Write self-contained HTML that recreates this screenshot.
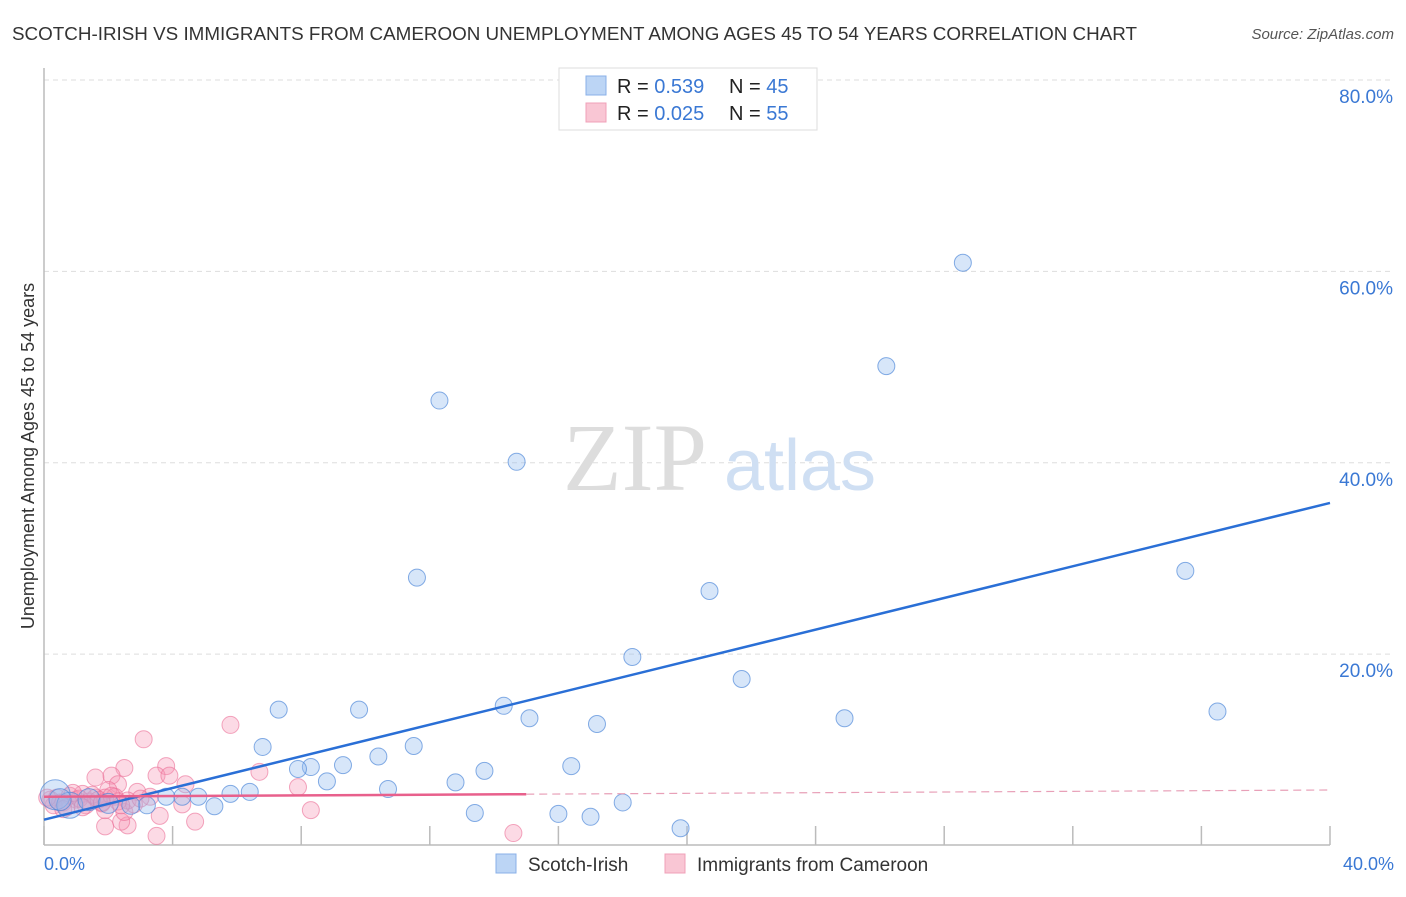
<!DOCTYPE html>
<html><head><meta charset="utf-8"><style>
body{margin:0;background:#fff;font-family:"Liberation Sans",sans-serif;}
svg text{font-family:"Liberation Sans",sans-serif;}
</style></head><body>
<svg width="1406" height="892" xmlns="http://www.w3.org/2000/svg">
<text x="12" y="40" font-size="18" fill="#333" textLength="1125" lengthAdjust="spacingAndGlyphs">SCOTCH-IRISH VS IMMIGRANTS FROM CAMEROON UNEMPLOYMENT AMONG AGES 45 TO 54 YEARS CORRELATION CHART</text>
<text x="1394" y="39" font-size="15" fill="#555" font-style="italic" text-anchor="end">Source: ZipAtlas.com</text>
<g id="grid"></g>
<g>
<text x="635" y="490" font-size="96" fill="#ddd" text-anchor="middle" font-family="Liberation Serif" style="font-family:'Liberation Serif',serif">ZIP</text>
<text x="800" y="490" font-size="72" fill="#cfdff3" text-anchor="middle">atlas</text>
</g>
<line x1="44" y1="68" x2="44" y2="845" stroke="#bbb" stroke-width="1.5"/>
<line x1="44" y1="845" x2="1330" y2="845" stroke="#bbb" stroke-width="1.5"/>
<g id="ticks"></g>
<text transform="translate(34,456) rotate(-90)" font-size="18" fill="#333" text-anchor="middle">Unemployment Among Ages 45 to 54 years</text>
<text x="44" y="870" font-size="18" fill="#3a78d4">0.0%</text>
<text x="1394" y="870" font-size="18" fill="#3a78d4" text-anchor="end">40.0%</text>
<g id="pts"></g>
<g id="lines"></g>
<g>
<rect x="559" y="68" width="258" height="62" fill="#fff" stroke="#ddd"/>
<rect x="586" y="76" width="20" height="19" fill="#bcd5f5" stroke="#8ab0e8"/>
<rect x="586" y="103" width="20" height="19" fill="#f9c6d4" stroke="#f0a0b8"/>
<text x="617" y="93" font-size="20" fill="#222">R = <tspan fill="#3a78d4">0.539</tspan></text>
<text x="729" y="93" font-size="20" fill="#222">N = <tspan fill="#3a78d4">45</tspan></text>
<text x="617" y="120" font-size="20" fill="#222">R = <tspan fill="#3a78d4">0.025</tspan></text>
<text x="729" y="120" font-size="20" fill="#222">N = <tspan fill="#3a78d4">55</tspan></text>
</g>
<g>
<rect x="496" y="854" width="20" height="19" fill="#bcd5f5" stroke="#8ab0e8"/>
<text x="528" y="871" font-size="19" fill="#333">Scotch-Irish</text>
<rect x="665" y="854" width="20" height="19" fill="#f9c6d4" stroke="#f0a0b8"/>
<text x="697" y="871" font-size="19" fill="#333">Immigrants from Cameroon</text>
</g>
</svg>
<script>
const yTicks=[20,40,60,80];
const yTickLabels=["20.0%","40.0%","60.0%","80.0%"];
const xTicks=[0,4,8,12,16,20,24,28,32,36,40];
const blueX=[28.58,26.2,12.3,14.7,11.6,20.7,35.5,18.3,21.7,36.5,24.9,7.3,9.8,14.3,15.1,17.2,6.8,11.5,10.4,9.3,8.3,7.9,13.7,16.4,8.8,12.8,10.7,6.4,5.8,4.8,5.3,4.3,3.8,3.2,18.0,13.4,16.0,17.0,19.8,0.35,0.8,1.4,2.0,2.7,0.5];
const blueY=[60.9,50.1,46.5,40.1,28.0,26.6,28.7,19.7,17.4,14.0,13.3,14.2,14.2,14.6,13.3,12.7,10.3,10.4,9.3,8.4,8.2,8.0,7.8,8.3,6.7,6.6,5.9,5.6,5.4,5.1,4.1,5.1,5.1,4.2,4.5,3.4,3.3,3.0,1.8,5.3,4.2,4.8,4.4,4.2,4.8];
const blueR=[8.5,8.5,8.5,8.5,8.5,8.5,8.5,8.5,8.5,8.5,8.5,8.5,8.5,8.5,8.5,8.5,8.5,8.5,8.5,8.5,8.5,8.5,8.5,8.5,8.5,8.5,8.5,8.5,8.5,8.5,8.5,8.5,8.5,8.5,8.5,8.5,8.5,8.5,8.5,15,13,11,10,9,11];
const pinkX=[5.8,3.1,3.8,2.5,1.6,2.1,3.5,3.9,2.3,4.4,6.7,7.9,8.3,14.6,2.0,2.9,3.3,4.3,3.6,4.7,3.5,2.6,1.9,2.4,2.5,1.9,0.2,0.4,0.6,0.8,1.0,1.2,1.4,1.6,1.8,2.2,2.6,2.8,0.3,0.7,1.1,1.5,1.9,2.3,0.5,0.9,1.3,1.7,2.1,0.1,0.6,1.2,1.8,2.4,3.0];
const pinkY=[12.6,11.1,8.3,8.1,7.1,7.3,7.3,7.3,6.4,6.4,7.7,6.1,3.7,1.3,5.8,5.6,5.1,4.3,3.1,2.5,1.0,2.1,2.0,2.5,3.5,3.7,4.8,5.0,4.5,5.2,4.8,5.4,4.6,5.0,4.4,5.1,4.7,4.3,4.2,4.0,4.9,5.3,5.0,4.6,4.5,5.5,4.2,4.8,5.2,5.0,3.8,4.0,4.5,4.2,4.9];
const blueLine=[2.7,35.8];
const pinkLine=[5.1,5.8];
const pinkSolidEnd=15;
const X=v=>44+v/40*1286, Y=v=>845.5-v/80*765.5;
const NS="http://www.w3.org/2000/svg";
function mk(t,a,p){const e=document.createElementNS(NS,t);for(const k in a)e.setAttribute(k,a[k]);p.appendChild(e);return e;}
const grid=document.getElementById('grid'),ticks=document.getElementById('ticks'),pts=document.getElementById('pts'),lines=document.getElementById('lines');
yTicks.forEach((v,i)=>{
 const l=mk('line',{x1:44,x2:1394,y1:Y(v),y2:Y(v),stroke:'#ddd','stroke-dasharray':'5,4'},grid);
 
 
 const t=mk('text',{x:1393,y:Y(v)+23,'font-size':19,fill:'#3a78d4','text-anchor':'end'},ticks);
 t.textContent=yTickLabels[i];
 
 
});
xTicks.forEach(v=>{
 const l=mk('line',{x1:X(v),x2:X(v),y1:826,y2:845,stroke:'#bbb','stroke-width':1.5},ticks);
 
 
});
pinkX.forEach((v,i)=>{
 const c=mk('circle',{cx:X(v),cy:Y(pinkY[i]),r:8.5,fill:'rgba(245,150,180,0.35)',stroke:'rgba(235,110,150,0.6)','stroke-width':1},pts);
 
 
});
blueX.forEach((v,i)=>{
 const c=mk('circle',{cx:X(v),cy:Y(blueY[i]),r:blueR[i],fill:'rgba(150,190,240,0.38)',stroke:'rgba(70,130,215,0.65)','stroke-width':1},pts);
 
 
});
const bl=mk('line',{x1:X(0),y1:Y(blueLine[0]),x2:X(40),y2:Y(blueLine[1]),stroke:'#2a6fd6','stroke-width':2.5},lines);


const pm=pinkLine[0]+(pinkLine[1]-pinkLine[0])*pinkSolidEnd/40;
const pl=mk('line',{x1:X(0),y1:Y(pinkLine[0]),x2:X(pinkSolidEnd),y2:Y(pm),stroke:'#e8608c','stroke-width':2.5},lines);


const pd=mk('line',{x1:X(pinkSolidEnd),y1:Y(pm),x2:X(40),y2:Y(pinkLine[1]),stroke:'#e8a0b8','stroke-width':1.2,'stroke-dasharray':'8,5'},lines);


</script>
</body></html>
